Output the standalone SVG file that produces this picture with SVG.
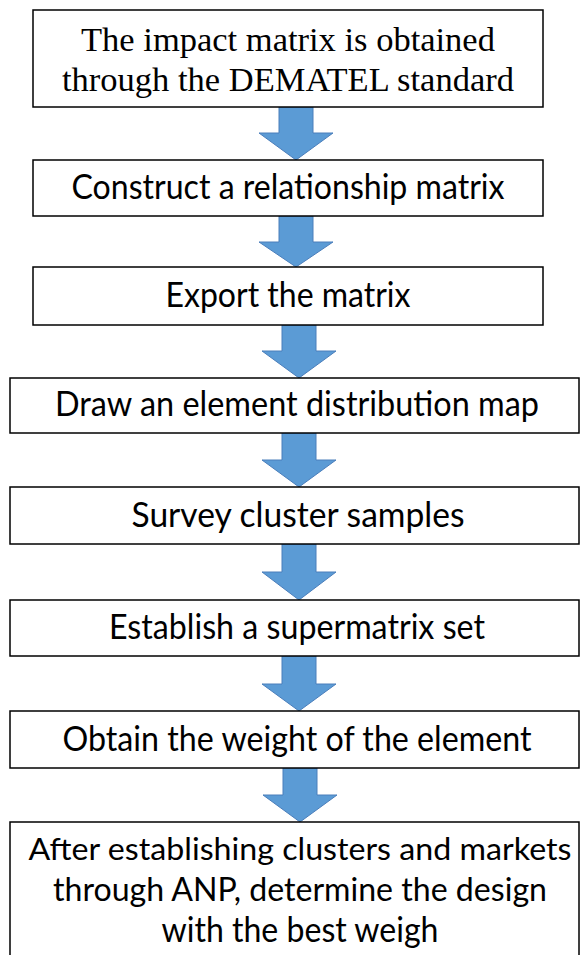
<svg xmlns="http://www.w3.org/2000/svg" width="580" height="955" viewBox="0 0 580 955">
<style>
.box{fill:#fff;stroke:#000;stroke-width:1.5}
.arr{fill:#5b9bd5;stroke:#4a7ebb;stroke-width:1}
.serif{font-family:"Liberation Serif","Times New Roman",serif;font-size:34.5px;fill:#000;text-anchor:middle}
.sans{font-family:Lato,"Open Sans",sans-serif;font-size:34.5px;fill:#000;text-anchor:middle}
.sm{font-size:33px}
.xs{font-size:31.5px}
</style>
<rect width="580" height="955" fill="#fff"/>
<g id="connectors">
<path class="arr" d="M279,107 H313 V133 H333 L296,160 L259,133 H279 Z"/>
<path class="arr" d="M279,216 H313 V242 H333 L296,267 L259,242 H279 Z"/>
<path class="arr" d="M282,325 H316 V351 H336 L299,378 L262,351 H282 Z"/>
<path class="arr" d="M282,433 H316 V460 H336 L299,487 L262,460 H282 Z"/>
<path class="arr" d="M282,544 H316 V572 H336 L299,600 L262,572 H282 Z"/>
<path class="arr" d="M282,656 H316 V684 H336 L299,711 L262,684 H282 Z"/>
<path class="arr" d="M283,768 H317 V795 H337 L300,822 L263,795 H283 Z"/>
</g>
<g id="n1">
<rect class="box" x="33" y="10" width="510" height="97"/>
<text class="serif" x="288" y="51">The impact matrix is obtained</text>
<text class="serif" x="288" y="91">through the DEMATEL standard</text>
</g>
<g id="n2">
<rect class="box" x="33" y="160" width="510" height="56"/>
<text class="sans" x="288" y="199" textLength="433" lengthAdjust="spacingAndGlyphs">Construct a relationship matrix</text>
</g>
<g id="n3">
<rect class="box" x="33" y="267" width="510" height="58"/>
<text class="sans" x="288" y="307" textLength="245" lengthAdjust="spacingAndGlyphs">Export the matrix</text>
</g>
<g id="n4">
<rect class="box" x="10" y="378" width="569" height="55"/>
<text class="sans" x="297" y="416" textLength="484" lengthAdjust="spacingAndGlyphs">Draw an element distribution map</text>
</g>
<g id="n5">
<rect class="box" x="10" y="487" width="569" height="57"/>
<text class="sans" x="298" y="527" textLength="333" lengthAdjust="spacingAndGlyphs">Survey cluster samples</text>
</g>
<g id="n6">
<rect class="box" x="10" y="600" width="569" height="56"/>
<text class="sans" x="297" y="639" textLength="376" lengthAdjust="spacingAndGlyphs">Establish a supermatrix set</text>
</g>
<g id="n7">
<rect class="box" x="10" y="711" width="569" height="57"/>
<text class="sans" x="297" y="751" textLength="469" lengthAdjust="spacingAndGlyphs">Obtain the weight of the element</text>
</g>
<g id="n8">
<rect class="box" x="10" y="822" width="569" height="140"/>
<text class="sans xs" x="300" y="860" textLength="543" lengthAdjust="spacingAndGlyphs">After establishing clusters and markets</text>
<text class="sans sm" x="300" y="901" textLength="494" lengthAdjust="spacingAndGlyphs">through ANP, determine the design</text>
<text class="sans" x="300" y="942" textLength="277" lengthAdjust="spacingAndGlyphs">with the best weigh</text>
</g>
</svg>
